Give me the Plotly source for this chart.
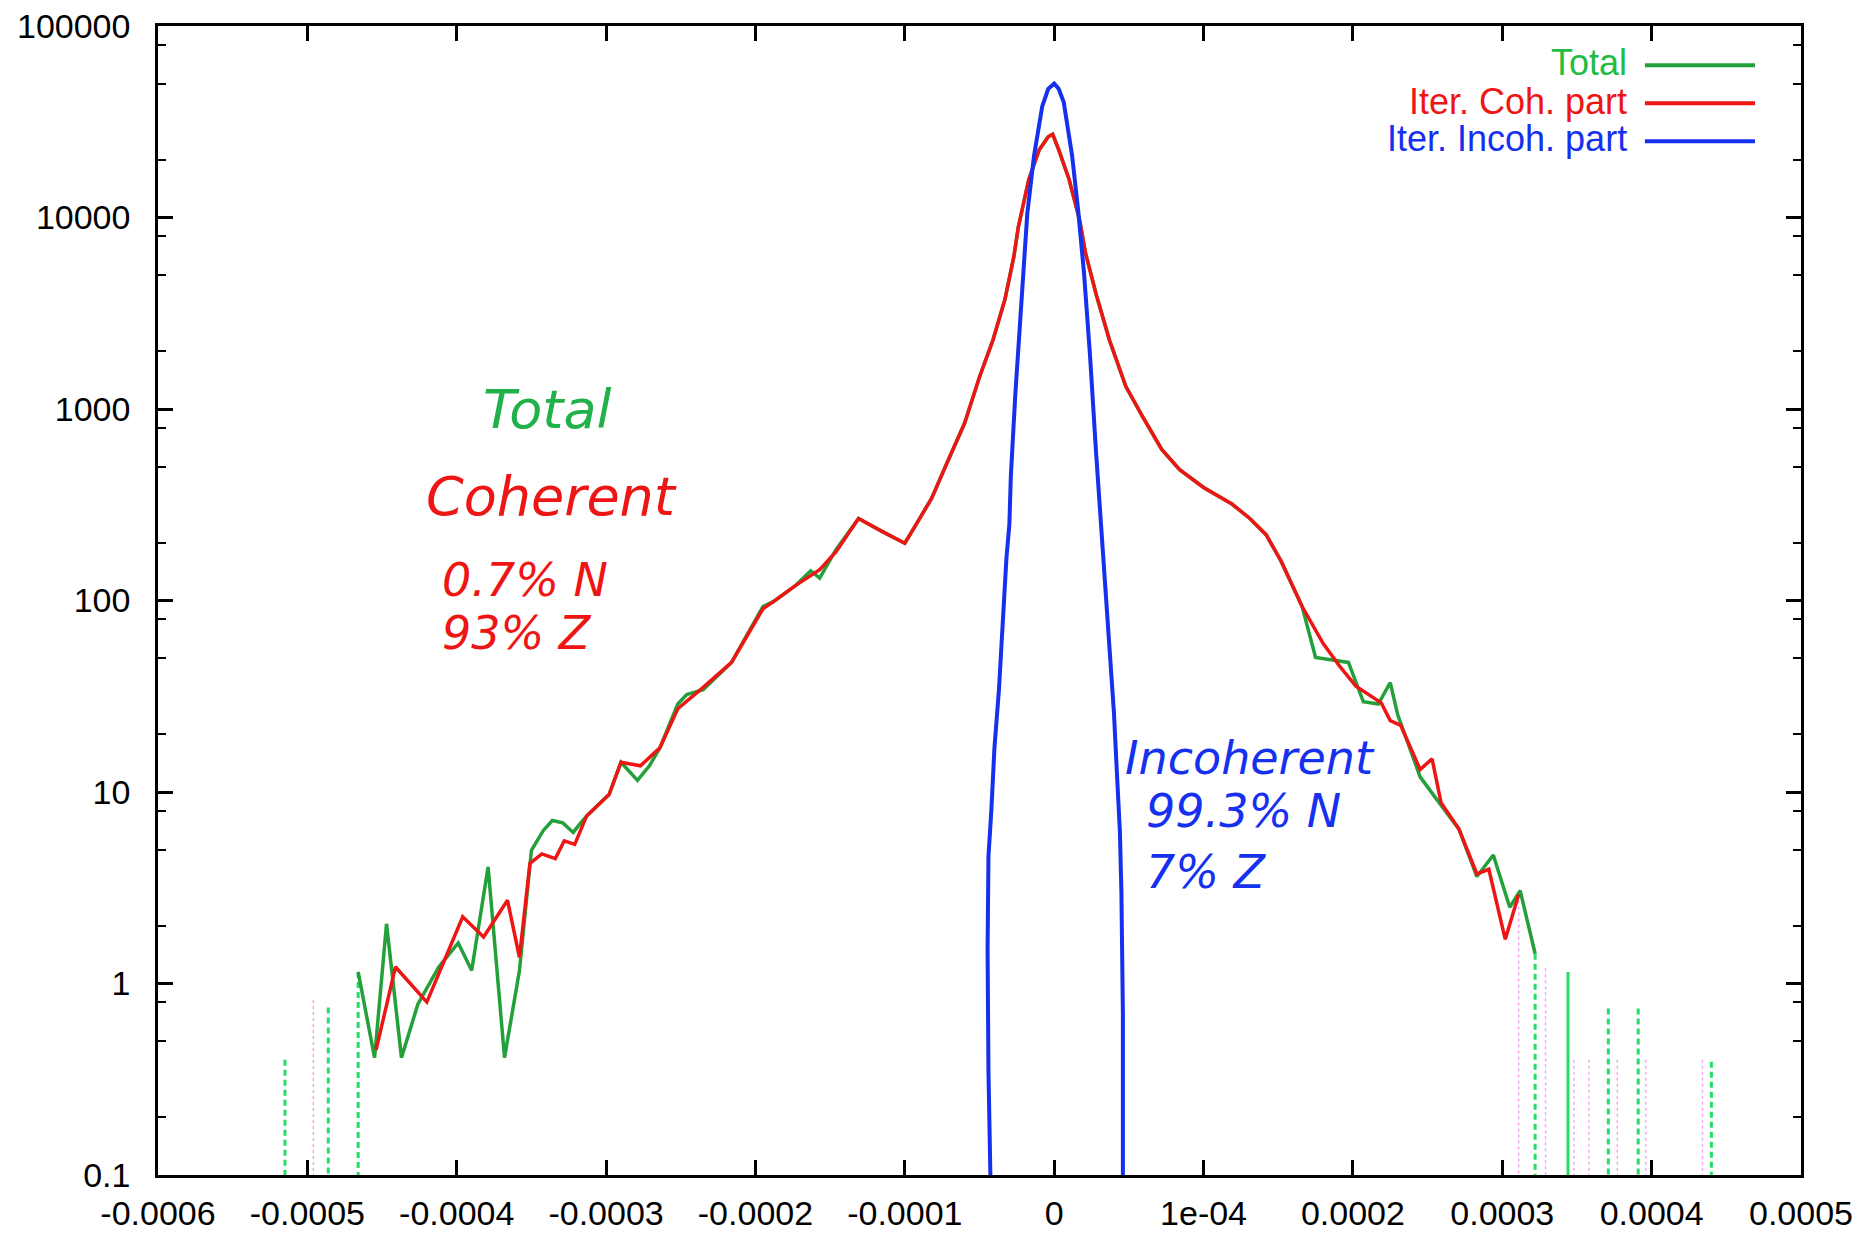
import numpy as np
import plotly.graph_objects as go

X_UNIT = 1e-4  # x arrays below are in units of 1e-4

# Iter. Coh. part (red)
coh_x = [-4.54, -4.41, -4.20, -3.96, -3.82, -3.66, -3.58, -3.51, -3.43, -3.34, -3.28, -3.21, -3.13, -2.98, -2.90,
         -2.77, -2.64, -2.52, -2.35, -2.16, -1.95, -1.88, -1.73, -1.57, -1.46, -1.31, -1.15, -1.00, -0.92, -0.82,
         -0.72, -0.60, -0.50, -0.41, -0.33, -0.27, -0.24, -0.17, -0.10, -0.04, -0.01, 0.03, 0.10, 0.17, 0.21,
         0.28, 0.37, 0.48, 0.59, 0.72, 0.84, 1.00, 1.19, 1.31, 1.42, 1.52, 1.66, 1.80, 1.91, 2.02,
         2.19, 2.25, 2.32, 2.45, 2.53, 2.59, 2.71, 2.83, 2.91, 3.02, 3.11]
coh_y = [0.45, 1.22, 0.80, 2.23, 1.75, 2.72, 1.37, 4.24, 4.75, 4.49, 5.56, 5.33, 7.5, 9.7, 14.3,
         13.7, 17.0, 27.2, 35.2, 47.5, 90.5, 98.6, 120, 145, 180, 268, 229, 199, 253, 342,
         518, 842, 1470, 2290, 3730, 6240, 8920, 15800, 22600, 26400, 27200, 22600, 15800, 9720, 6510,
         4000, 2290, 1310, 918, 615, 482, 389, 319, 268, 220, 160, 93, 59.8, 45.5, 35.7,
         29.2, 23.6, 22.3, 13.1, 14.9, 8.8, 6.4, 3.73, 3.95, 1.70, 2.92]

# Total (green)
tot_x = [-4.66, -4.55, -4.47, -4.37, -4.26, -4.12, -3.99, -3.90, -3.79, -3.68, -3.58, -3.50, -3.42, -3.36, -3.29,
         -3.22, -3.17, -3.13, -2.98, -2.90, -2.79, -2.71, -2.64, -2.52, -2.46, -2.35, -2.16, -1.95, -1.88, -1.73,
         -1.63, -1.57, -1.46, -1.31, -1.15, -1.00, -0.92, -0.82, -0.72, -0.60, -0.50, -0.41, -0.33, -0.27, -0.24,
         -0.17, -0.10, -0.04, -0.01, 0.03, 0.10, 0.17, 0.21, 0.28, 0.37, 0.48, 0.59, 0.72, 0.84, 1.00,
         1.19, 1.31, 1.42, 1.52, 1.66, 1.75, 1.97, 2.07, 2.17, 2.25, 2.30, 2.45, 2.55, 2.71, 2.83,
         2.94, 3.05, 3.12, 3.22]
tot_y = [1.15, 0.41, 2.05, 0.41, 0.78, 1.22, 1.63, 1.17, 4.06, 0.41, 1.17, 4.96, 6.3, 7.1, 6.9,
         6.15, 6.9, 7.5, 9.7, 14.3, 11.5, 13.7, 17.0, 28.8, 32.3, 34.2, 47.5, 93, 98.6, 120,
         143, 131, 185, 268, 229, 199, 253, 342, 518, 842, 1470, 2290, 3730, 6240, 8920,
         15800, 22600, 26400, 27200, 22600, 15800, 9720, 6510, 4000, 2290, 1310, 918, 615, 482, 389,
         319, 268, 220, 160, 93, 50.4, 47.5, 29.6, 28.8, 37.3, 25.3, 12.0, 9.4, 6.4, 3.62,
         4.69, 2.5, 3.05, 1.43]

# isolated bins of Total (drop to zero, drawn dashed) and one solid
tot_drop_x = [-5.15, -4.86, -4.66, 3.22, 3.71, 3.91, 4.40]
tot_drop_y = [0.40, 0.75, 1.15, 1.43, 0.74, 0.74, 0.39]
tot_solid_drop_x = [3.44]
tot_solid_drop_y = [1.15]

# isolated bins of the coherent part (faint dotted)
coh_drop_x = [-4.96, 3.11, 3.29, 3.48, 3.58, 3.77, 3.96, 4.34]
coh_drop_y = [0.82, 2.92, 1.2, 0.4, 0.4, 0.4, 0.4, 0.4]

# Iter. Incoh. part (blue)
incoh_x = [-0.42, -0.44, -0.446, -0.44, -0.42, -0.40, -0.37, -0.35, -0.32, -0.30, -0.29, -0.26, -0.22, -0.18,
           -0.135, -0.08, -0.04, 0.0, 0.03, 0.064, 0.12, 0.16, 0.20, 0.24, 0.28, 0.32, 0.36, 0.40, 0.42,
           0.44, 0.45, 0.46, 0.46]
incoh_y = [0.05, 0.35, 1.5, 4.6, 8.2, 17, 34, 70, 165, 250, 450, 1200, 3800, 10500,
           21000, 38000, 47000, 50000, 47000, 40000, 21000, 11000, 5100, 1900, 600, 220, 70, 26, 12.6,
           6.2, 3.0, 0.7, 0.05]

x_tickvals = [-6, -5, -4, -3, -2, -1, 0, 1, 2, 3, 4, 5]
x_ticktext = ["-0.0006", "-0.0005", "-0.0004", "-0.0003", "-0.0002", "-0.0001", "0", "1e-04",
              "0.0002", "0.0003", "0.0004", "0.0005"]
y_tickvals = [0.1, 1, 10, 100, 1000, 10000, 100000]
y_ticktext = ["0.1", "1", "10", "100", "1000", "10000", "100000"]
y_minor_mult = [2, 5, 8]

GREEN = "#23a03a"
GREEN_LIGHT = "#22dd66"
RED = "#ee1515"
BLUE = "#1530ee"
PINK = "#f4a6f0"

FLOOR = 0.01


def drops(xs, ys):
    dx, dy = [], []
    for x, y in zip(xs, ys):
        dx += [x * X_UNIT, x * X_UNIT, None]
        dy += [y, FLOOR, None]
    return dx, dy


fig = go.Figure()

px_, py_ = drops(coh_drop_x, coh_drop_y)
fig.add_trace(go.Scatter(x=px_, y=py_, mode="lines", showlegend=False, hoverinfo="skip",
                         line=dict(color=PINK, width=1.5, dash="dot")))
dx_, dy_ = drops(tot_drop_x, tot_drop_y)
fig.add_trace(go.Scatter(x=dx_, y=dy_, mode="lines", showlegend=False, hoverinfo="skip",
                         line=dict(color=GREEN_LIGHT, width=3, dash="6px,4px")))
sx_, sy_ = drops(tot_solid_drop_x, tot_solid_drop_y)
fig.add_trace(go.Scatter(x=sx_, y=sy_, mode="lines", showlegend=False, hoverinfo="skip",
                         line=dict(color=GREEN_LIGHT, width=3)))

fig.add_trace(go.Scatter(x=np.array(tot_x) * X_UNIT, y=tot_y, mode="lines", name="Total",
                         line=dict(color=GREEN, width=3.5)))
fig.add_trace(go.Scatter(x=np.array(coh_x) * X_UNIT, y=coh_y, mode="lines", name="Iter. Coh. part",
                         line=dict(color=RED, width=3.5)))
fig.add_trace(go.Scatter(x=np.array(incoh_x) * X_UNIT, y=incoh_y, mode="lines", name="Iter. Incoh. part",
                         line=dict(color=BLUE, width=4)))

minor_vals = [m * 10.0 ** e for e in range(-1, 5) for m in y_minor_mult]

tick_font = dict(family="Liberation Sans, Arial, sans-serif", size=34, color="black")

fig.update_layout(
    width=1864, height=1233,
    margin=dict(l=158, r=63, t=26, b=58),
    paper_bgcolor="white", plot_bgcolor="white",
    showlegend=False,
    xaxis=dict(range=[-6 * X_UNIT, 5 * X_UNIT], tickvals=[v * X_UNIT for v in x_tickvals], ticktext=x_ticktext,
               ticks="inside", ticklen=15, tickwidth=2.5, tickcolor="black",
               showline=True, linecolor="black", linewidth=2.5, mirror="ticks",
               showgrid=False, zeroline=False, tickfont=tick_font, ticklabelstandoff=6,
               automargin=False),
    yaxis=dict(type="log", range=[-1, 5], tickvals=y_tickvals, ticktext=y_ticktext,
               ticks="inside", ticklen=15, tickwidth=2.5, tickcolor="black",
               showline=True, linecolor="black", linewidth=2.5, mirror="ticks",
               showgrid=False, zeroline=False, tickfont=tick_font, ticklabelstandoff=18,
               automargin=False,
               minor=dict(tickvals=minor_vals, ticks="inside", ticklen=8, tickwidth=2, tickcolor="black",
                          showgrid=False)),
)

# legend drawn gnuplot-style (text right-aligned, sample to the right)
legend_items = [("Total", "#22bb44", GREEN, 0.9678), ("Iter. Coh. part", RED, RED, 0.9347),
                ("Iter. Incoh. part", BLUE, BLUE, 0.9017)]
for label, tcol, lcol, yy in legend_items:
    fig.add_annotation(x=0.8953, y=yy, xref="paper", yref="paper", text=label, showarrow=False,
                       xanchor="right", yanchor="middle",
                       font=dict(family="Liberation Sans, Arial, sans-serif", size=36, color=tcol))
    fig.add_shape(type="line", xref="paper", yref="paper", x0=0.905, x1=0.972, y0=yy - 0.002, y1=yy - 0.002,
                  line=dict(color=lcol, width=4))

hand = "DejaVu Sans, sans-serif"
notes = [
    ("Total", 0.2368, 0.6658, "center", 54, "#22b04a"),
    ("Coherent", 0.2398, 0.5901, "center", 54, RED),
    ("0.7% N", 0.1716, 0.5178, "left", 46, RED),
    ("93% Z", 0.1716, 0.4717, "left", 46, RED),
    ("Incoherent", 0.5873, 0.3629, "left", 46, BLUE),
    ("99.3% N", 0.6001, 0.3168, "left", 46, BLUE),
    ("7% Z", 0.6001, 0.2637, "left", 46, BLUE),
]
for txt, xx, yy, anc, sz, col in notes:
    fig.add_annotation(x=xx, y=yy, xref="paper", yref="paper", text=txt, showarrow=False,
                       xanchor=anc, yanchor="middle",
                       font=dict(family=hand, size=sz, color=col, style="italic"))

fig.write_html("out.html")
